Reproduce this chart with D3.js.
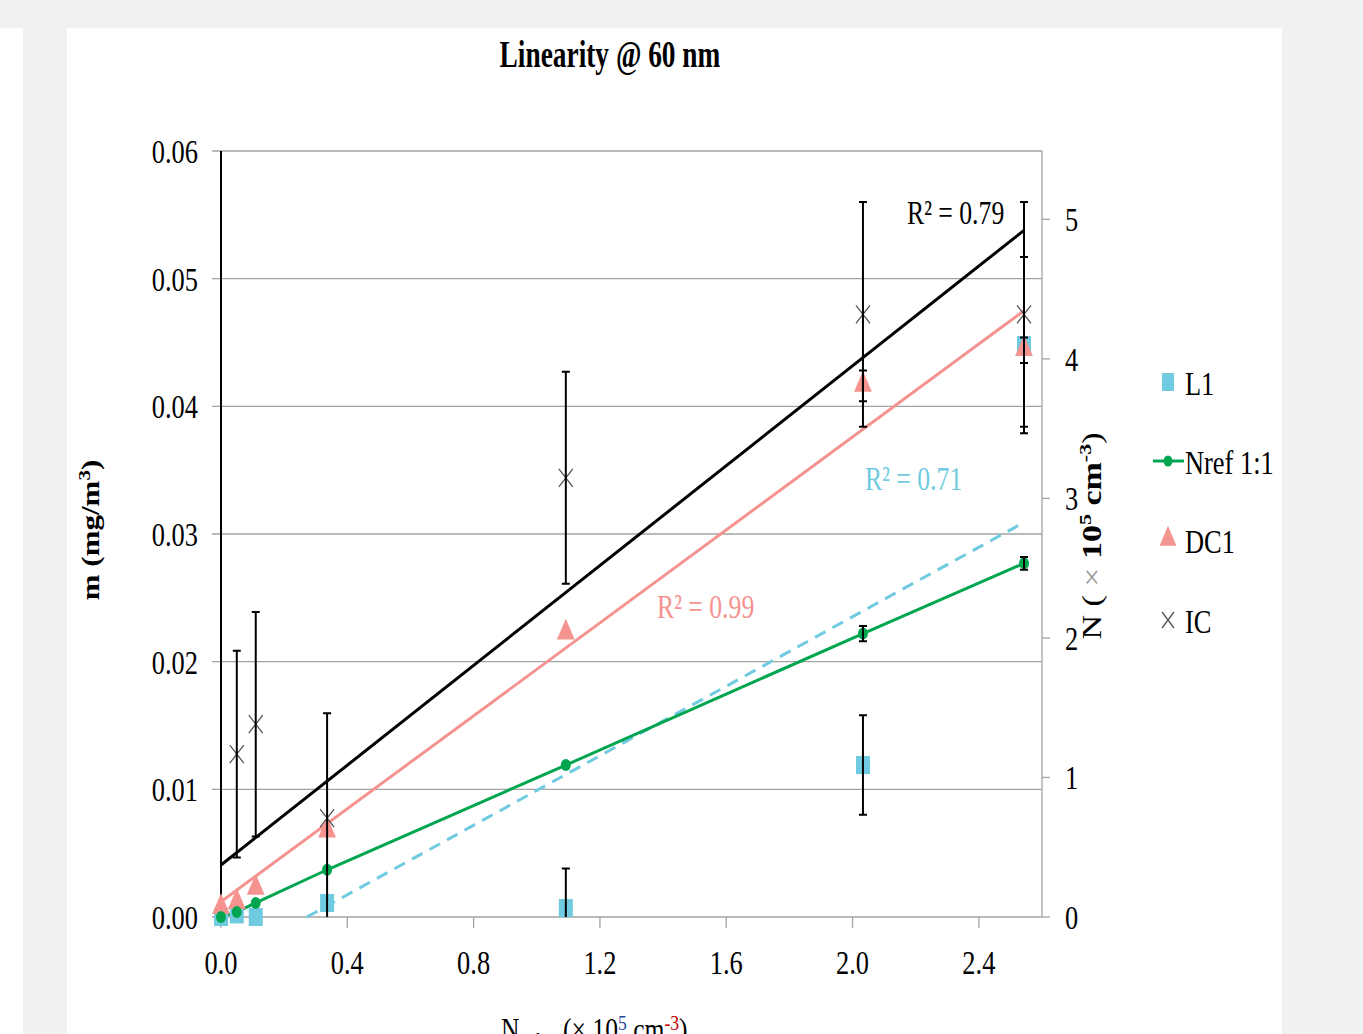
<!DOCTYPE html>
<meta charset="utf-8">
<style>
body { margin: 0; background: #f0f1f3; }
svg { display: block; }
text { font-family: "Liberation Serif", "Tinos", "Times New Roman", "DejaVu Serif", serif; }
</style>
<svg width="1363" height="1034"></svg>
<script src="https://d3js.org/d3.v7.min.js"></script>
<script>

// data
var nVals   = [0, 0.05, 0.11, 0.336, 1.092, 2.033, 2.543];
var l1Vals  = [0, 0.0002, 0, 0.0011, 0.0007, 0.0119, 0.0448];
var l1Err   = [0, 0, 0, 0, 0.0031, 0.0039, 0.0069];
var nrefVals = [0, 0.0004, 0.0011, 0.0037, 0.0119, 0.0222, 0.0277];
var nrefErr  = [0, 0, 0, 0, 0, 0.0006, 0.0005];
var dc1Vals = [0.0007, 0.0011, 0.0022, 0.0067, 0.0222, 0.0416, 0.0444];
var dc1Err  = [0, 0, 0, 0, 0, 0.0012, 0.0010];
var icVals  = [null, 0.01276, 0.0151, 0.00775, 0.0344, 0.0472, 0.0472];
var icErr   = [0, 0.0081, 0.0088, 0.0082, 0.0083, 0.0088, 0.0088];

// linear trends (slope, intercept, R²)
var trendNames = ["IC", "DC1", "L1"];
var trendSlope = [0.01955, 0.0182, 0.01361];
var trendIntercept = [0.00407, 0.0012, -0.0037];
var trendR2 = ["0.79", "0.99", "0.71"];

var xTicks = [0, 0.4, 0.8, 1.2, 1.6, 2.0, 2.4];
var yTicks = [0, 0.01, 0.02, 0.03, 0.04, 0.05, 0.06];
var y2Ticks = [0, 1, 2, 3, 4, 5];
var legendNames = ["L1", "Nref 1:1", "DC1", "IC"];

var cCyan = "#70cbe0", cGreen = "#00a550", cPink = "#f4938f", cGrid = "#a3a3a3";
var SX = 0.8; // text in the picture is squeezed horizontally

var svg = d3.select("svg");

// page background pieces
svg.append("rect").attr("x", 0).attr("y", 28).attr("width", 23).attr("height", 1006).attr("fill", "#fff");
svg.append("rect").attr("x", 67).attr("y", 28).attr("width", 1215).attr("height", 1006).attr("fill", "#fff");

var x = d3.scaleLinear().domain([0, 2.6]).range([221, 1042]);
var y = d3.scaleLinear().domain([0, 0.06]).range([917, 151]);
var y2 = d3.scaleLinear().domain([0, 5.49]).range([917, 151]);

function label(g, px, py, size, anchor, txt) {
    return g.append("text")
        .attr("transform", "translate(" + px + "," + py + ") scale(" + SX + ",1)")
        .attr("font-size", size)
        .attr("text-anchor", anchor)
        .text(txt);
}

// gridlines + left ticks
svg.append("g").selectAll("line")
    .data(yTicks.slice(1))
    .enter().append("line")
    .attr("x1", 212).attr("x2", 1042)
    .attr("y1", y).attr("y2", y)
    .attr("stroke", cGrid).attr("stroke-width", 1.3);

// bottom axis
svg.append("line").attr("x1", 212).attr("x2", 1042).attr("y1", y(0)).attr("y2", y(0))
    .attr("stroke", cGrid).attr("stroke-width", 1.3);
svg.append("g").selectAll("line")
    .data(xTicks)
    .enter().append("line")
    .attr("x1", x).attr("x2", x).attr("y1", y(0)).attr("y2", y(0) + 11)
    .attr("stroke", cGrid).attr("stroke-width", 1.3);

// right axis
svg.append("line").attr("x1", 1042).attr("x2", 1042).attr("y1", 151).attr("y2", 917)
    .attr("stroke", cGrid).attr("stroke-width", 1.3);
svg.append("g").selectAll("line")
    .data(y2Ticks)
    .enter().append("line")
    .attr("x1", 1042).attr("x2", 1050).attr("y1", y2).attr("y2", y2)
    .attr("stroke", cGrid).attr("stroke-width", 1.3);

// left axis
svg.append("line").attr("x1", 221).attr("x2", 221).attr("y1", 151).attr("y2", 917)
    .attr("stroke", "#000").attr("stroke-width", 2);

// tick labels
var tl = svg.append("g");
yTicks.forEach(function(t) { label(tl, 198, y(t) + 12, 33, "end", d3.format(".2f")(t)); });
xTicks.forEach(function(t) { label(tl, x(t), 974, 33, "middle", d3.format(".1f")(t)); });
y2Ticks.forEach(function(t) { label(tl, 1065, y2(t) + 12, 33, "start", t); });

// title
svg.append("text")
    .attr("transform", "translate(610,67) scale(0.72,1)")
    .attr("font-size", 38).attr("font-weight", "bold")
    .attr("text-anchor", "middle")
    .text("Linearity @ 60 nm");

// left axis title
var lt = svg.append("text")
    .attr("transform", "translate(99,530) scale(" + SX + ",1) rotate(-90)")
    .attr("font-size", 31).attr("font-weight", "bold")
    .attr("text-anchor", "middle");
lt.append("tspan").text("m (mg/m");
lt.append("tspan").attr("dy", -11).attr("font-size", 21).text("3");
lt.append("tspan").attr("dy", 11).text(")");

// right axis title
var rt = svg.append("text")
    .attr("transform", "translate(1101,536) scale(" + SX + ",1) rotate(-90)")
    .attr("font-size", 34)
    .attr("text-anchor", "middle");
rt.append("tspan").text("N ( ");
rt.append("tspan").attr("fill", "#999").text("×");
rt.append("tspan").attr("font-weight", "bold").text(" 10");
rt.append("tspan").attr("font-weight", "bold").attr("dy", -12).attr("font-size", 22).text("5");
rt.append("tspan").attr("font-weight", "bold").attr("dy", 12).text(" cm");
rt.append("tspan").attr("font-weight", "bold").attr("dy", -12).attr("font-size", 22).text("-3");
rt.append("tspan").attr("dy", 12).text(")");

// bottom axis title (cut off by the frame, as in the original)
var bt = svg.append("text")
    .attr("transform", "translate(501,1040) scale(" + SX + ",1)")
    .attr("font-size", 32);
bt.append("tspan").text("N");
bt.append("tspan").attr("font-size", 22).attr("dy", 8).text("ref");
bt.append("tspan").attr("dy", -8).attr("dx", 30).text("(× 10");
bt.append("tspan").attr("font-size", 22).attr("dy", -10).attr("fill", "#1f4e9a").text("5");
bt.append("tspan").attr("dy", 10).text(" cm");
bt.append("tspan").attr("font-size", 22).attr("dy", -10).attr("fill", "#c00000").text("-3");
bt.append("tspan").attr("dy", 10).text(")");

// trend lines
var plot = svg.append("g");
var trendColors = ["#000", cPink, cCyan];
trendNames.forEach(function(n, i) {
    var x0 = Math.max(0, -trendIntercept[i] / trendSlope[i]);
    var x1 = nVals[nVals.length - 1];
    plot.append("line")
        .attr("x1", x(x0)).attr("y1", y(trendSlope[i] * x0 + trendIntercept[i]))
        .attr("x2", x(x1)).attr("y2", y(trendSlope[i] * x1 + trendIntercept[i]))
        .attr("stroke", trendColors[i]).attr("stroke-width", 3)
        .attr("stroke-dasharray", n === "L1" ? "12,8" : null);
});

// Nref line
var pts = nVals.map(function(v, i) { return [v, nrefVals[i]]; });
plot.append("path")
    .attr("d", d3.line().x(function(d) { return x(d[0]); }).y(function(d) { return y(d[1]); })(pts))
    .attr("fill", "none").attr("stroke", cGreen).attr("stroke-width", 3);

// markers
var tri = d3.symbol().type(d3.symbolTriangle).size(190);
nVals.forEach(function(v, i) {
    plot.append("rect").attr("x", x(v) - 7).attr("y", y(l1Vals[i]) - 9)
        .attr("width", 14).attr("height", 18).attr("fill", cCyan);
});
nVals.forEach(function(v, i) {
    plot.append("path").attr("d", tri)
        .attr("transform", "translate(" + x(v) + "," + (y(dc1Vals[i]) - 1) + ") scale(0.85,1.15)")
        .attr("fill", cPink);
});
nVals.forEach(function(v, i) {
    plot.append("ellipse").attr("cx", x(v)).attr("cy", y(nrefVals[i]))
        .attr("rx", 5).attr("ry", 6).attr("fill", cGreen);
});
nVals.forEach(function(v, i) {
    if (icVals[i] === null) return;
    var cx = x(v), cy = y(icVals[i]);
    plot.append("path")
        .attr("d", "M" + (cx - 7) + "," + (cy - 9) + "L" + (cx + 7) + "," + (cy + 9) +
                   "M" + (cx - 7) + "," + (cy + 9) + "L" + (cx + 7) + "," + (cy - 9))
        .attr("stroke", "#555").attr("stroke-width", 1.3).attr("fill", "none");
});

// error bars
function errBars(vals, errs) {
    nVals.forEach(function(v, i) {
        if (vals[i] === null || !errs[i]) return;
        var lo = Math.max(0, vals[i] - errs[i]), hi = vals[i] + errs[i];
        var cx = x(v);
        var p = "M" + cx + "," + y(lo) + "L" + cx + "," + y(hi) +
                "M" + (cx - 4) + "," + y(hi) + "L" + (cx + 4) + "," + y(hi);
        if (vals[i] - errs[i] > 0) p += "M" + (cx - 4) + "," + y(lo) + "L" + (cx + 4) + "," + y(lo);
        plot.append("path").attr("d", p)
            .attr("stroke", "#000").attr("stroke-width", 2).attr("fill", "none");
    });
}
errBars(icVals, icErr);
errBars(l1Vals, l1Err);
errBars(dc1Vals, dc1Err);
errBars(nrefVals, nrefErr);

// R² labels
var rPos = [[907, 224], [657, 618], [865, 490]];
trendNames.forEach(function(n, i) {
    svg.append("text")
        .attr("transform", "translate(" + rPos[i][0] + "," + rPos[i][1] + ") scale(0.78,1)")
        .attr("font-size", 33).attr("fill", trendColors[i])
        .text("R² = " + trendR2[i]);
});

// legend
var lg = svg.append("g");
var lgY = [382, 461, 540, 620];
legendNames.forEach(function(n, i) {
    var cy = lgY[i];
    if (n === "L1") {
        lg.append("rect").attr("x", 1162).attr("y", cy - 9).attr("width", 12).attr("height", 18).attr("fill", cCyan);
    } else if (n === "DC1") {
        lg.append("path").attr("d", tri)
            .attr("transform", "translate(1168," + (cy - 1) + ") scale(0.8,1.1)").attr("fill", cPink);
    } else if (n === "IC") {
        lg.append("path")
            .attr("d", "M1162," + (cy - 8) + "L1174," + (cy + 8) + "M1162," + (cy + 8) + "L1174," + (cy - 8))
            .attr("stroke", "#555").attr("stroke-width", 1.3);
    } else {
        lg.append("line").attr("x1", 1153).attr("x2", 1184).attr("y1", cy).attr("y2", cy)
            .attr("stroke", cGreen).attr("stroke-width", 3);
        lg.append("ellipse").attr("cx", 1168).attr("cy", cy).attr("rx", 4.5).attr("ry", 5.5).attr("fill", cGreen);
    }
    label(lg, 1185, cy + 13, 33, "start", n);
});

</script>
